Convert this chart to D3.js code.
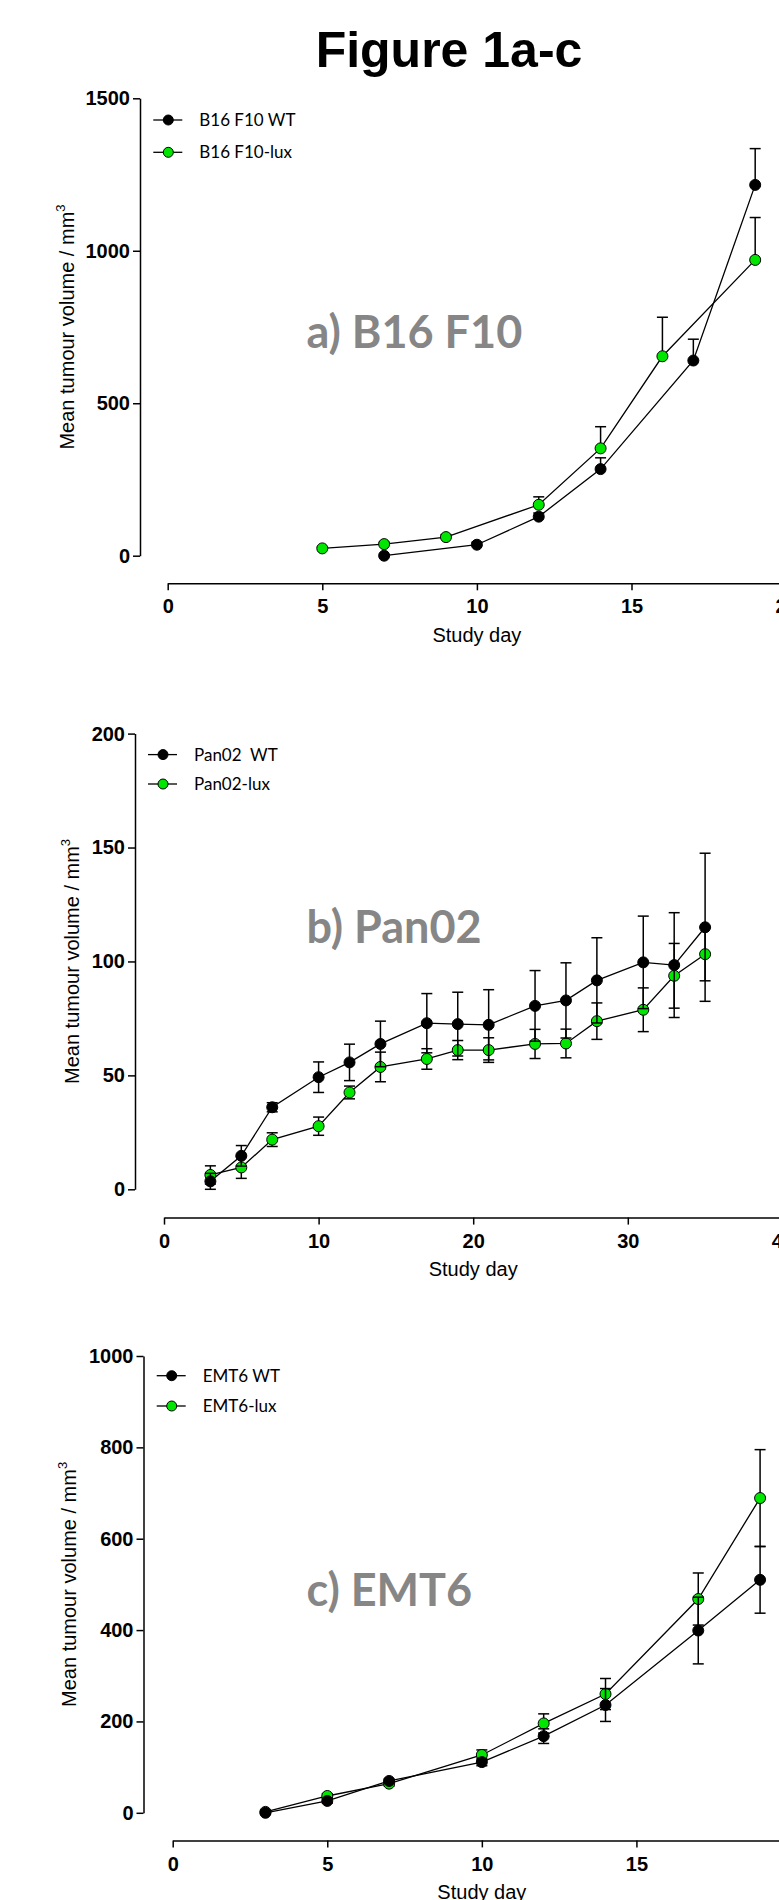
<!DOCTYPE html>
<html>
<head>
<meta charset="utf-8">
<script src="https://cdn.jsdelivr.net/npm/d3@7"></script>
<style>
  body { margin: 0; background: #fff; }
  svg { display: block; }
</style>
</head>
<body>
<script>
// ---- data ----
// a) B16 F10  (SEM shown upward only)
const daysA_wt  = [7, 10, 12, 14, 17, 19];
const volA_wt   = [0, 36, 128, 284, 640, 1216];
const errA_wt   = [0, 8, 12, 37, 70, 119];
const daysA_lux = [5, 7, 9, 12, 14, 16, 19];
const volA_lux  = [24, 38, 61, 167, 352, 654, 970];
const errA_lux  = [4, 6, 8, 26, 71, 128, 139];

// b) Pan02
const daysB     = [3, 5, 7, 10, 12, 14, 17, 19, 21, 24, 26, 28, 31, 33, 35];
const volB_wt   = [3.5, 14.7, 36, 49.2, 55.7, 63.8, 72.9, 72.5, 72.2, 80.5, 82.9, 91.7, 99.6, 98.4, 115];
const errB_wt   = [3.5, 4.5, 2, 6.7, 8, 10, 13, 14, 15.4, 15.5, 16.5, 18.7, 20.3, 23, 32.5];
const volB_lux  = [6.3, 9.6, 21.8, 27.7, 42.5, 53.7, 57.2, 61.1, 61.1, 63.8, 64, 73.8, 78.8, 93.7, 103.2];
const errB_lux  = [4, 4.8, 3, 4, 2.8, 6.5, 4.5, 4.2, 5.4, 6.4, 6.3, 8, 9.6, 14.2, 11.7];

// c) EMT6
const daysC     = [3, 5, 7, 10, 12, 14, 17, 19];
const volC_wt   = [0, 26, 69.7, 111, 167.8, 236, 399, 510];
const errC_wt   = [3, 5, 4, 8, 16, 36, 73, 73];
const volC_lux  = [2, 36.8, 63.8, 126.6, 195.6, 260, 468, 689];
const errC_lux  = [4, 5, 5, 11, 21, 34, 57, 106];

const ticksA_y = [0, 500, 1000, 1500], ticksA_x = [0, 5, 10, 15, 20];
const ticksB_y = [0, 50, 100, 150, 200], ticksB_x = [0, 10, 20, 30, 40];
const ticksC_y = [0, 200, 400, 600, 800, 1000], ticksC_x = [0, 5, 10, 15, 20];

const GREEN = "#00e600";
const ARIAL = "'Liberation Sans', Arial, sans-serif";
const LATO = "Lato, 'Open Sans', sans-serif";

const svg = d3.select("body").append("svg")
    .attr("width", 779)
    .attr("height", 1900);

svg.append("text")
    .attr("x", 449).attr("y", 67)
    .attr("text-anchor", "middle")
    .attr("font-family", ARIAL)
    .attr("font-weight", "bold")
    .attr("font-size", 50)
    .text("Figure 1a-c");

function zip(days, vals, errs){
    return days.map((d, i) => ({day: d, v: vals[i], e: errs[i]}));
}

function drawPanel(p){
    const x = d3.scaleLinear().domain(p.xDomain).range([p.x0, p.x1]);
    const y = d3.scaleLinear().domain(p.yDomain).range([p.y0, p.y1]);
    const g = svg.append("g");

    // axes
    const ya = g.append("g")
        .attr("transform", "translate(" + p.yAxisX + ",0)")
        .call(d3.axisLeft(y).tickValues(p.yTicks).tickFormat(d3.format("d"))
            .tickSize(7).tickPadding(3).tickSizeOuter(0));
    const xa = g.append("g")
        .attr("transform", "translate(0," + p.xAxisY + ")")
        .call(d3.axisBottom(x).tickValues(p.xTicks).tickFormat(d3.format("d"))
            .tickSize(7).tickPadding(9).tickSizeOuter(0));
    [ya, xa].forEach(a => {
        a.selectAll("path, line").attr("stroke", "#000").attr("stroke-width", 1.5);
        a.selectAll("text")
            .attr("fill", "#000")
            .attr("font-family", ARIAL)
            .attr("font-weight", "bold")
            .attr("font-size", 20);
    });

    // axis titles
    const yl = g.append("text")
        .attr("transform", "translate(" + p.yLabelX + "," + ((p.y0 + p.y1) / 2) + ") rotate(-90)")
        .attr("text-anchor", "middle")
        .attr("font-family", ARIAL)
        .attr("font-size", 20);
    yl.append("tspan").text("Mean tumour volume / mm");
    yl.append("tspan").attr("dy", -9).attr("font-size", 13).text("3");

    g.append("text")
        .attr("x", (p.x0 + p.x1) / 2)
        .attr("y", p.xAxisY + 58.5)
        .attr("text-anchor", "middle")
        .attr("font-family", ARIAL)
        .attr("font-size", 20)
        .text("Study day");

    // grey panel label
    g.append("text")
        .attr("x", 306.5).attr("y", p.labelY)
        .attr("font-family", LATO)
        .attr("font-weight", "bold")
        .attr("font-size", 45)
        .attr("fill", "#868686")
        .text(p.label);

    // series: lux first, WT on top
    const line = d3.line().x(d => x(d.day)).y(d => y(d.v));
    p.series.forEach(s => {
        const sg = g.append("g");
        sg.append("path")
            .datum(s.data)
            .attr("d", line)
            .attr("fill", "none")
            .attr("stroke", "#000")
            .attr("stroke-width", 1.3);

        const eb = sg.selectAll(".eb")
            .data(s.data.filter(d => d.e > 0))
            .enter().append("g");
        eb.append("line")
            .attr("x1", d => x(d.day)).attr("x2", d => x(d.day))
            .attr("y1", d => p.upOnly ? y(d.v) : y(d.v - d.e))
            .attr("y2", d => y(d.v + d.e))
            .attr("stroke", "#000").attr("stroke-width", 1.5);
        eb.append("line")
            .attr("x1", d => x(d.day) - 5.5).attr("x2", d => x(d.day) + 5.5)
            .attr("y1", d => y(d.v + d.e)).attr("y2", d => y(d.v + d.e))
            .attr("stroke", "#000").attr("stroke-width", 1.5);
        if (!p.upOnly) {
            eb.append("line")
                .attr("x1", d => x(d.day) - 5.5).attr("x2", d => x(d.day) + 5.5)
                .attr("y1", d => y(d.v - d.e)).attr("y2", d => y(d.v - d.e))
                .attr("stroke", "#000").attr("stroke-width", 1.5);
        }

        sg.selectAll("circle")
            .data(s.data)
            .enter().append("circle")
            .attr("cx", d => x(d.day))
            .attr("cy", d => y(d.v))
            .attr("r", 5.5)
            .attr("fill", s.color)
            .attr("stroke", "#000")
            .attr("stroke-width", 1);
    });

    // legend (WT first)
    const leg = [p.series[1], p.series[0]];
    leg.forEach((s, i) => {
        const ly = p.legY + i * p.legGap;
        g.append("line")
            .attr("x1", p.legX - 15).attr("x2", p.legX + 14)
            .attr("y1", ly).attr("y2", ly)
            .attr("stroke", "#000").attr("stroke-width", 1.3);
        g.append("circle")
            .attr("cx", p.legX).attr("cy", ly).attr("r", 5)
            .attr("fill", s.color).attr("stroke", "#000");
        g.append("text")
            .attr("x", p.legX + 31).attr("y", ly)
            .attr("dy", "0.35em")
            .attr("font-family", LATO)
            .attr("font-size", 17)
            .style("white-space", "pre")
            .text(s.name);
    });
}

drawPanel({
    xDomain: [0, 20], x0: 167.7, x1: 786.1,
    yDomain: [0, 1500], y0: 555.7, y1: 98.3,
    yAxisX: 140, xAxisY: 583.3, yLabelX: 73.5,
    xTicks: ticksA_x, yTicks: ticksA_y,
    label: "a) B16 F10", labelY: 348.3, upOnly: true,
    legX: 168.3, legY: 120, legGap: 32.3,
    series: [
        {name: "B16 F10-lux", color: GREEN, data: zip(daysA_lux, volA_lux, errA_lux)},
        {name: "B16 F10 WT", color: "#000", data: zip(daysA_wt, volA_wt, errA_wt)}
    ]
});

drawPanel({
    xDomain: [0, 40], x0: 164, x1: 782.4,
    yDomain: [0, 200], y0: 1189.3, y1: 733.6,
    yAxisX: 135, xAxisY: 1217.6, yLabelX: 78.5,
    xTicks: ticksB_x, yTicks: ticksB_y,
    label: "b) Pan02", labelY: 943, upOnly: false,
    legX: 163, legY: 754.6, legGap: 29.4,
    series: [
        {name: "Pan02-lux", color: GREEN, data: zip(daysB, volB_lux, errB_lux)},
        {name: "Pan02  WT", color: "#000", data: zip(daysB, volB_wt, errB_wt)}
    ]
});

drawPanel({
    xDomain: [0, 20], x0: 172.7, x1: 791,
    yDomain: [0, 1000], y0: 1812.8, y1: 1356,
    yAxisX: 143.5, xAxisY: 1840.4, yLabelX: 75.5,
    xTicks: ticksC_x, yTicks: ticksC_y,
    label: "c) EMT6", labelY: 1606, upOnly: false,
    legX: 171.7, legY: 1375.7, legGap: 30.3,
    series: [
        {name: "EMT6-lux", color: GREEN, data: zip(daysC, volC_lux, errC_lux)},
        {name: "EMT6 WT", color: "#000", data: zip(daysC, volC_wt, errC_wt)}
    ]
});
</script>
</body>
</html>
